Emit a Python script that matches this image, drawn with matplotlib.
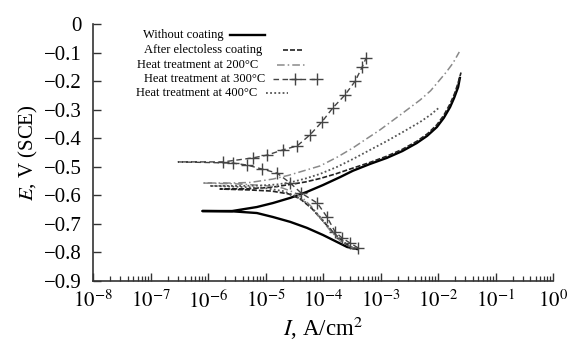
import numpy as np
import matplotlib
matplotlib.use("Agg")
import matplotlib.pyplot as plt
from matplotlib.ticker import LogLocator, NullFormatter

plt.rcParams['font.family'] = ['Liberation Serif', 'DejaVu Serif']
plt.rcParams['mathtext.fontset'] = 'stix'

# polarization curves, log10(I) and E (V vs SCE), from cathodic end through Ecorr to anodic end
logi_bare = [-3.41, -3.58, -3.76, -4.00, -4.28, -4.57, -4.87, -5.15, -5.58, -6.10,
             -5.58, -5.15, -4.87, -4.57, -4.28, -4.00, -3.70, -3.48, -3.18, -2.89, -2.62,
             -2.37, -2.19, -2.02, -1.90, -1.79, -1.72, -1.65, -1.62]
e_bare = [-0.788, -0.781, -0.763, -0.739, -0.714, -0.693, -0.676, -0.662, -0.656, -0.655,
          -0.655, -0.641, -0.627, -0.609, -0.588, -0.564, -0.536, -0.514, -0.490, -0.469, -0.445,
          -0.417, -0.392, -0.361, -0.329, -0.291, -0.259, -0.221, -0.189]

logi_eless = [-3.45, -3.60, -3.80, -4.00, -4.20, -4.40, -4.60, -4.90, -5.30, -5.79,
              -5.30, -4.90, -4.57, -4.30, -4.05, -3.78, -3.53, -3.20, -2.89, -2.62, -2.37,
              -2.18, -2.02, -1.90, -1.79, -1.71, -1.65, -1.60]
e_eless = [-0.788, -0.770, -0.735, -0.690, -0.645, -0.612, -0.595, -0.585, -0.581, -0.578,
           -0.577, -0.572, -0.562, -0.553, -0.541, -0.525, -0.508, -0.486, -0.463, -0.439, -0.411,
           -0.384, -0.353, -0.320, -0.280, -0.243, -0.206, -0.170]

logi_200 = [-3.43, -3.50, -3.70, -3.88, -4.05, -4.20, -4.35, -4.50, -4.71, -5.00, -5.50, -6.10,
            -5.60, -5.27, -4.87, -4.60, -4.40, -4.05, -3.75, -3.48, -3.25, -3.01, -2.66, -2.31,
            -2.13, -1.97, -1.85, -1.74, -1.63]
e_200 = [-0.788, -0.782, -0.760, -0.722, -0.679, -0.640, -0.610, -0.590, -0.574, -0.566, -0.560, -0.557,
         -0.557, -0.555, -0.543, -0.530, -0.518, -0.497, -0.466, -0.434, -0.403, -0.371, -0.319, -0.266,
         -0.234, -0.196, -0.167, -0.137, -0.098]

logi_300 = [-3.39, -3.53, -3.67, -3.79, -3.93, -4.10, -4.38, -4.57, -4.80, -5.06, -5.32, -5.57,
            -6.52,
            -5.74, -5.22, -4.97, -4.70, -4.45, -4.23, -4.02, -3.83, -3.62, -3.44, -3.32, -3.25]
e_300 = [-0.784, -0.767, -0.749, -0.728, -0.676, -0.627, -0.592, -0.557, -0.522, -0.508, -0.494, -0.487,
         -0.483,
         -0.483, -0.469, -0.459, -0.441, -0.427, -0.389, -0.343, -0.294, -0.249, -0.200, -0.151, -0.119]

logi_400 = [-3.48, -3.60, -3.78, -3.95, -4.12, -4.30, -4.50, -4.70, -5.00, -5.50, -5.97,
            -5.50, -5.10, -4.80, -4.57, -4.30, -4.05, -3.75, -3.48, -3.20, -2.89, -2.60, -2.31,
            -2.13, -1.97]
e_400 = [-0.788, -0.772, -0.740, -0.700, -0.660, -0.625, -0.600, -0.585, -0.575, -0.570, -0.567,
         -0.567, -0.566, -0.562, -0.555, -0.541, -0.525, -0.500, -0.473, -0.443, -0.410, -0.377, -0.343,
         -0.318, -0.291]

labels = ['Without coating', 'After electoless coating', 'Heat treatment at 200°C',
          'Heat treatment at 300°C', 'Heat treatment at 400°C']

yticks = [0, -0.1, -0.2, -0.3, -0.4, -0.5, -0.6, -0.7, -0.8, -0.9]
ylabels = ['0', '−0.1', '−0.2', '−0.3', '−0.4', '−0.5', '−0.6', '−0.7', '−0.8', '−0.9']

styles = [
    dict(color='black', lw=1.7, ls='-'),
    dict(color='#222222', lw=1.2, ls=(0, (3, 1.2))),
    dict(color='#8a8a8a', lw=1.1, ls=(0, (5, 2, 1, 2))),
    dict(color='#444444', lw=1.0, ls=(0, (4, 2.5)), marker='+', ms=8, mew=1.0),
    dict(color='#555555', lw=1.3, ls=(0, (1, 1.3))),
]

fig = plt.figure(figsize=(5.72, 3.43), dpi=100)
ax = fig.add_axes([0.1626, 0.1808, 0.8042, 0.7493])

series = [(logi_bare, e_bare), (logi_eless, e_eless), (logi_200, e_200),
          (logi_300, e_300), (logi_400, e_400)]
for (li, e), st in zip(series, styles):
    x = 10 ** np.array(li)
    if 'marker' in st:
        mk = [i for i in range(len(li)) if i != 12]
        ax.plot(x, e, markevery=mk, **st)
    else:
        ax.plot(x, e, **st)

ax.set_xscale('log')
ax.set_xlim(1e-8, 1)
ax.set_ylim(-0.9, 0)
ax.set_xticks([10.0 ** k for k in range(-8, 1)])
ax.set_xticklabels([r'$10^{%d}$' % k for k in range(-8, 1)])
ax.xaxis.set_minor_locator(LogLocator(base=10, subs=np.arange(2, 10), numticks=20))
ax.xaxis.set_minor_formatter(NullFormatter())
ax.set_yticks(yticks)
ax.set_yticklabels(ylabels)

for s in ['top', 'right']:
    ax.spines[s].set_visible(False)
for s in ['left', 'bottom']:
    ax.spines[s].set_color('#333333')
    ax.spines[s].set_linewidth(1.2)
ax.tick_params(which='major', direction='in', length=6, width=1, colors='#333333',
               labelsize=15, labelcolor='black')
ax.tick_params(axis='x', which='major', pad=7)
ax.tick_params(axis='y', which='major', pad=8)
ax.tick_params(which='minor', direction='in', length=3.5, width=0.9, colors='#333333')

ax.set_xlabel(r'$I$, A/cm$^2$', fontsize=16.5, labelpad=1)
ax.set_ylabel(r'$E$, V (SCE)', fontsize=15, labelpad=3)

# legend: label followed by a short sample of the line
rows_y = [0.957, 0.899, 0.842, 0.786, 0.730]
text_x = [0.283, 0.367, 0.359, 0.374, 0.357]
handle_x = [(0.298, 0.374), (0.413, 0.457), (0.400, 0.463), (0.391, 0.487), (0.376, 0.424)]
for lab, y, tx, (h0, h1), st in zip(labels, rows_y, text_x, handle_x, styles):
    ax.text(tx, y, lab, transform=ax.transAxes, ha='right', va='center', fontsize=9)
    if 'marker' in st:
        ax.plot([h0, (h0 + h1) / 2, h1], [y, y, y], transform=ax.transAxes,
                markevery=[1, 2], clip_on=False, **st)
    else:
        ax.plot([h0, h1], [y, y], transform=ax.transAxes, clip_on=False, **st)

fig.savefig('out.png', dpi=100)
